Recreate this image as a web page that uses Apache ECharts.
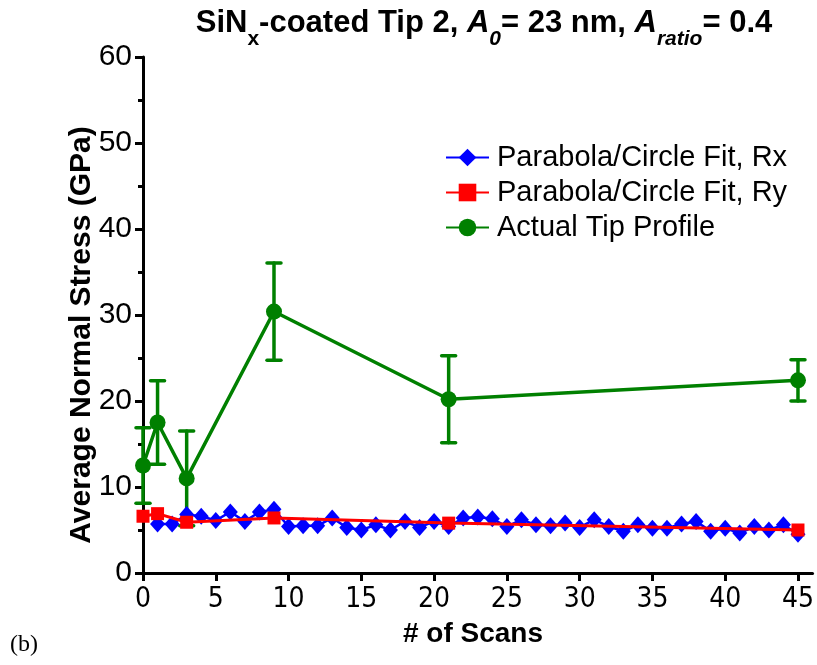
<!DOCTYPE html>
<html>
<head>
<meta charset="utf-8">
<script src="https://cdn.jsdelivr.net/npm/echarts@6/dist/echarts.min.js"></script>
<style>
html,body{margin:0;padding:0;background:#fff;}
#chart{width:817px;height:665px;}
</style>
</head>
<body>
<div id="chart"></div>
<script>
// ---- data ----
var scansFit = [0, 1, 3, 9, 21, 45];
var actualTip = [12.5, 17.5, 11.0, 30.4, 20.2, 22.4];
var actualTipErr = [4.4, 4.85, 5.5, 5.65, 5.05, 2.4];
var fitRy = [6.6, 6.9, 5.9, 6.4, 5.8, 5.0];
var scansRx = [1,2,3,4,5,6,7,8,9,10,11,12,13,14,15,16,17,18,19,20,21,22,23,24,25,26,27,28,29,30,31,32,33,34,35,36,37,38,39,40,41,42,43,44,45];
var fitRx = [5.7,5.7,6.8,6.6,6.1,7.1,6.0,7.1,7.4,5.4,5.5,5.5,6.4,5.3,5.0,5.6,5.0,6.0,5.3,6.0,5.4,6.4,6.5,6.3,5.4,6.2,5.6,5.5,5.8,5.3,6.2,5.4,4.85,5.6,5.2,5.2,5.7,6.0,4.85,5.2,4.65,5.4,5.0,5.6,4.5];
var xTicks = [0, 5, 10, 15, 20, 25, 30, 35, 40, 45];
var seriesNames = ['Parabola/Circle Fit, Rx', 'Parabola/Circle Fit, Ry', 'Actual Tip Profile'];

var NARROW = "'DejaVu Sans Condensed', 'Liberation Sans', sans-serif";
var SANS = "'Liberation Sans', Arial, sans-serif";

function pairs(xs, ys) { return xs.map(function (x, i) { return [x, ys[i]]; }); }
var errData = scansFit.map(function (x, i) {
  return [x, actualTip[i] - actualTipErr[i], actualTip[i] + actualTipErr[i]];
});

var chart = echarts.init(document.getElementById('chart'), null, {renderer: 'canvas'});
var option = {
  backgroundColor: '#fff',
  animation: false,
  grid: {left: 143, right: 2, top: 57, bottom: 92, containLabel: false},
  xAxis: {
    type: 'value', min: 0, max: 46,
    axisLine: {lineStyle: {color: '#000', width: 3}},
    axisTick: {show: true, length: 8, inside: false, lineStyle: {color: '#000', width: 3}, customValues: xTicks},
    axisLabel: {color: '#000', fontSize: 28, fontFamily: NARROW, margin: 13, customValues: xTicks},
    splitLine: {show: false}
  },
  yAxis: {
    type: 'value', min: 0, max: 60, interval: 10,
    axisLine: {show: true, lineStyle: {color: '#000', width: 3}},
    axisTick: {show: true, length: 8, lineStyle: {color: '#000', width: 3}},
    minorTick: {show: true, splitNumber: 2, length: 5, lineStyle: {color: '#000', width: 3}},
    axisLabel: {color: '#000', fontSize: 30, fontFamily: SANS, margin: 11},
    splitLine: {show: false}
  },
  legend: {
    orient: 'vertical', left: 445, top: 141, itemGap: 2, padding: 0,
    itemWidth: 43, itemHeight: 22,
    data: seriesNames,
    textStyle: {color: '#000', fontSize: 29, fontFamily: SANS, lineHeight: 33, padding: [0, 0, 0, 3]}
  },
  series: [
    {
      name: seriesNames[2], type: 'line', data: pairs(scansFit, actualTip), z: 2,
      color: '#008000', lineStyle: {color: '#008000', width: 3.5},
      symbol: 'circle', symbolSize: 16, itemStyle: {color: '#008000'}
    },
    {
      name: 'err', type: 'custom', data: errData, z: 2,
      renderItem: function (params, api) {
        var x = api.value(0);
        var lo = api.coord([x, api.value(1)]);
        var hi = api.coord([x, api.value(2)]);
        var hw = 7;
        var st = {stroke: '#008000', lineWidth: 3.5, lineCap: 'round'};
        return {type: 'group', children: [
          {type: 'line', shape: {x1: lo[0], y1: lo[1], x2: hi[0], y2: hi[1]}, style: st},
          {type: 'line', shape: {x1: lo[0] - hw, y1: lo[1], x2: lo[0] + hw, y2: lo[1]}, style: st},
          {type: 'line', shape: {x1: hi[0] - hw, y1: hi[1], x2: hi[0] + hw, y2: hi[1]}, style: st}
        ]};
      }
    },
    {
      name: seriesNames[0], type: 'line', data: pairs(scansRx, fitRx), z: 3,
      color: '#0000ff', lineStyle: {color: '#0000ff', width: 2.5},
      symbol: 'diamond', symbolSize: [15, 17], itemStyle: {color: '#0000ff'}
    },
    {
      name: seriesNames[1], type: 'line', data: pairs(scansFit, fitRy), z: 4,
      color: '#ff0000', lineStyle: {color: '#ff0000', width: 3},
      symbol: 'rect', symbolSize: 13, itemStyle: {color: '#ff0000'}
    }
  ],
  graphic: [
    {
      type: 'text', x: 484, y: 8, z: 10,
      style: {
        text: '{b|SiN}{s|x}{b|-coated Tip 2, }{i|A}{si|0}{b|= 23 nm, }{i|A}{si|ratio}{b|= 0.4}',
        align: 'center', verticalAlign: 'top',
        rich: {
          b: {fontSize: 31, fontWeight: 'bold', fontFamily: SANS, lineHeight: 34, verticalAlign: 'top', fill: '#000'},
          i: {fontSize: 31, fontWeight: 'bold', fontStyle: 'italic', fontFamily: SANS, lineHeight: 34, verticalAlign: 'top', fill: '#000'},
          s: {fontSize: 21, fontWeight: 'bold', fontFamily: SANS, lineHeight: 21, padding: [21, 0, 0, 0], verticalAlign: 'top', fill: '#000'},
          si: {fontSize: 21, fontWeight: 'bold', fontStyle: 'italic', fontFamily: SANS, lineHeight: 21, padding: [21, 0, 0, 0], verticalAlign: 'top', fill: '#000'}
        }
      }
    },
    {
      type: 'text', x: 82, y: 335, rotation: Math.PI / 2, z: 10,
      style: {text: 'Average Normal Stress (GPa)', fontSize: 30, fontWeight: 'bold', fontFamily: SANS, fill: '#000', align: 'center', verticalAlign: 'middle'}
    },
    {
      type: 'text', x: 473, y: 634, z: 10,
      style: {text: '# of Scans', fontSize: 28, fontWeight: 'bold', fontFamily: SANS, fill: '#000', align: 'center', verticalAlign: 'middle'}
    },
    {
      type: 'text', x: 10, y: 645, z: 10,
      style: {text: '(b)', fontSize: 24, fontFamily: "'Liberation Serif', 'Times New Roman', serif", fill: '#000', align: 'left', verticalAlign: 'middle'}
    }
  ]
};
chart.setOption(option);
</script>
</body>
</html>
